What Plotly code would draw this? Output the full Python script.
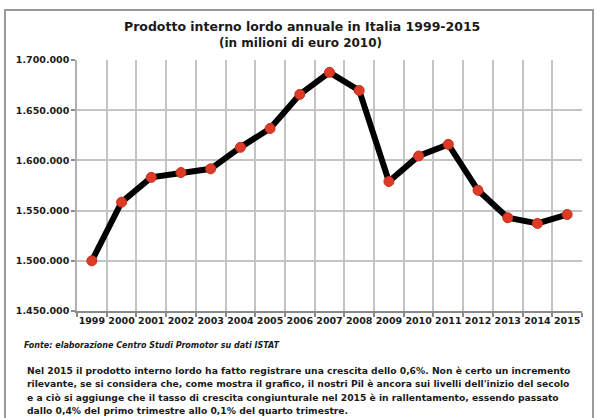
import plotly.graph_objects as go

years = list(range(1999, 2016))
gdp = [1500000, 1558400, 1583100, 1587900, 1591600, 1613000, 1631800, 1665700,
       1687700, 1669700, 1579000, 1604400, 1616000, 1570200, 1542900, 1537200, 1546100]
y_ticks = [1450000, 1500000, 1550000, 1600000, 1650000, 1700000]

title1 = "Prodotto interno lordo annuale in Italia 1999-2015"
title2 = "(in milioni di euro 2010)"
source = "Fonte: elaborazione Centro Studi Promotor su dati ISTAT"
para = [
    "Nel 2015 il prodotto interno lordo ha fatto registrare una crescita dello 0,6%. Non è certo un incremento",
    "rilevante, se si considera che, come mostra il grafico, il nostri Pil è ancora sui livelli dell'inizio del secolo",
    "e a ciò si aggiunge che il tasso di crescita congiunturale nel 2015 è in rallentamento, essendo passato",
    "dallo 0,4% del primo trimestre allo 0,1% del quarto trimestre.",
]

W, H = 595, 418
L, R, T, B = 77, 13, 60, 107
pw, ph = W - L - R, H - T - B
FONT = "DejaVu Sans"

def px(x):
    return (x - L) / pw

def py(y):
    return (H - B - y) / ph

fig = go.Figure()
fig.add_trace(go.Scatter(
    x=years, y=gdp, mode="lines+markers",
    line=dict(color="#000000", width=6),
    marker=dict(color="#dd3b25", size=10, line=dict(color="#c83020", width=1)),
    showlegend=False, hoverinfo="skip",
))

annotations = [
    dict(text="<b>%s</b>" % title1, x=px(302), y=py(27), font=dict(size=12.5)),
    dict(text="<b>%s</b>" % title2, x=px(300), y=py(43), font=dict(size=12)),
    dict(text="<b><i>%s</i></b>" % source, x=px(22), y=py(346), xanchor="left", font=dict(size=8)),
]
for i, line in enumerate(para):
    annotations.append(dict(text="<b>%s</b>" % line, x=px(25), y=py(370 + 13.5 * i),
                            xanchor="left", font=dict(size=9.2)))
for a in annotations:
    a.setdefault("xanchor", "center")
    a.update(xref="paper", yref="paper", yanchor="middle", showarrow=False)
    a["font"].update(family=FONT, color="#1a1a1a")

fig.update_layout(
    width=W, height=H,
    margin=dict(l=L, r=R, t=T, b=B),
    paper_bgcolor="white", plot_bgcolor="white",
    separators=",.",
    annotations=annotations,
    shapes=[dict(type="rect", xref="paper", yref="paper",
                 x0=px(5), x1=px(593), y0=py(430), y1=py(10),
                 line=dict(color="#9a9a9a", width=2), layer="below")],
    xaxis=dict(
        range=[1998.5, 2015.5], tickmode="array", tickvals=years,
        ticktext=["<b>%d</b>" % y for y in years],
        showgrid=False, ticks="", showline=True, linecolor="#8a8a8a", linewidth=1.5,
        tickfont=dict(family=FONT, size=9.5, color="#1a1a1a"),
        minor=dict(tick0=1998.5, dtick=1, showgrid=True, gridcolor="#c4c4c4", gridwidth=1.5,
                   ticks="outside", ticklen=4, tickcolor="#8a8a8a", tickwidth=1.5),
        fixedrange=True,
    ),
    yaxis=dict(
        range=[1450000, 1700000], tickmode="array", tickvals=y_ticks,
        ticktext=["<b>%s</b>" % f"{v:,}".replace(",", ".") for v in y_ticks],
        showgrid=True, gridcolor="#c4c4c4", gridwidth=1.5,
        ticks="outside", ticklen=4, tickcolor="#8a8a8a", tickwidth=1.5,
        showline=True, linecolor="#b0b0b0", linewidth=1.5,
        tickfont=dict(family=FONT, size=9.5, color="#1a1a1a"),
        zeroline=False, fixedrange=True,
    ),
)
fig.write_html("out.html")
